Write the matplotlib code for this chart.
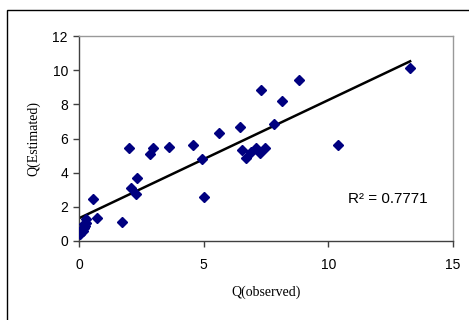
import numpy as np
import matplotlib
matplotlib.use("Agg")
import matplotlib.pyplot as plt
from matplotlib.patches import Rectangle

q_observed = [0.05, 0.10, 0.12, 0.15, 0.20, 0.22, 0.25, 0.28, 0.30,
              0.56, 0.74, 1.71, 2.02, 2.07, 2.29, 2.31, 2.86, 2.97,
              3.61, 4.56, 4.95, 5.00, 5.62, 6.46, 6.55, 6.70, 6.91,
              7.10, 7.26, 7.30, 7.46, 7.84, 8.16, 8.84, 10.40, 13.28]
q_estimated = [0.40, 0.50, 0.70, 0.60, 0.75, 1.00, 0.90, 1.27, 1.05,
               2.44, 1.35, 1.13, 5.46, 3.12, 2.75, 3.71, 5.07, 5.46,
               5.52, 5.60, 4.78, 2.59, 6.34, 6.69, 5.33, 4.88, 5.23,
               5.43, 5.17, 8.84, 5.46, 6.87, 8.18, 9.43, 5.62, 10.15]
r2_label = "R\u00b2 = 0.7771"
x_ticks = [0, 5, 10, 15]
y_ticks = [0, 2, 4, 6, 8, 10, 12]

x = np.array(q_observed)
y = np.array(q_estimated)
slope, intercept = np.polyfit(x, y, 1)

fig = plt.figure(figsize=(4.69, 3.20), dpi=100)
fig.patches.append(Rectangle((7/469, -0.1), 1.2, 1 - 10/320 + 0.1, transform=fig.transFigure,
                             fill=False, edgecolor='black', linewidth=1.0))
ax = fig.add_axes([79/469, 1 - 241/320, (453-79)/469, (241-36)/320])

xl = np.array([0, x.max()])
ax.plot(xl, slope * xl + intercept, color='black', linewidth=1.8, zorder=2)
ax.plot(x, y, linestyle='none', marker='D', markersize=5, color='#000080',
        markeredgecolor='#000080', zorder=3)

ax.set_xlim(0, 15)
ax.set_ylim(0, 12)
ax.set_xticks(x_ticks)
ax.set_yticks(y_ticks)
tick_font = dict(family='Liberation Sans', size=10)
ax.set_xticklabels([str(t) for t in x_ticks], **tick_font)
ax.set_yticklabels([str(t) for t in y_ticks], **tick_font)
ax.tick_params(direction='out', length=4, width=1, color='#404040', pad=4)
ax.xaxis.set_tick_params(pad=8)

for s in ['top', 'right']:
    ax.spines[s].set_color('#999999')
    ax.spines[s].set_linewidth(1)
for s in ['left', 'bottom']:
    ax.spines[s].set_color('#404040')
    ax.spines[s].set_linewidth(1)

ax.set_xlabel('Q(observed)', family='Liberation Serif', size=10, labelpad=10)
ax.set_ylabel('Q(Estimated)', family='Liberation Serif', size=10, labelpad=9)

ax.text(10.8, 2.2, r2_label, family='Liberation Sans', size=11, ha='left', va='baseline')

fig.savefig('out.png', dpi=100)
